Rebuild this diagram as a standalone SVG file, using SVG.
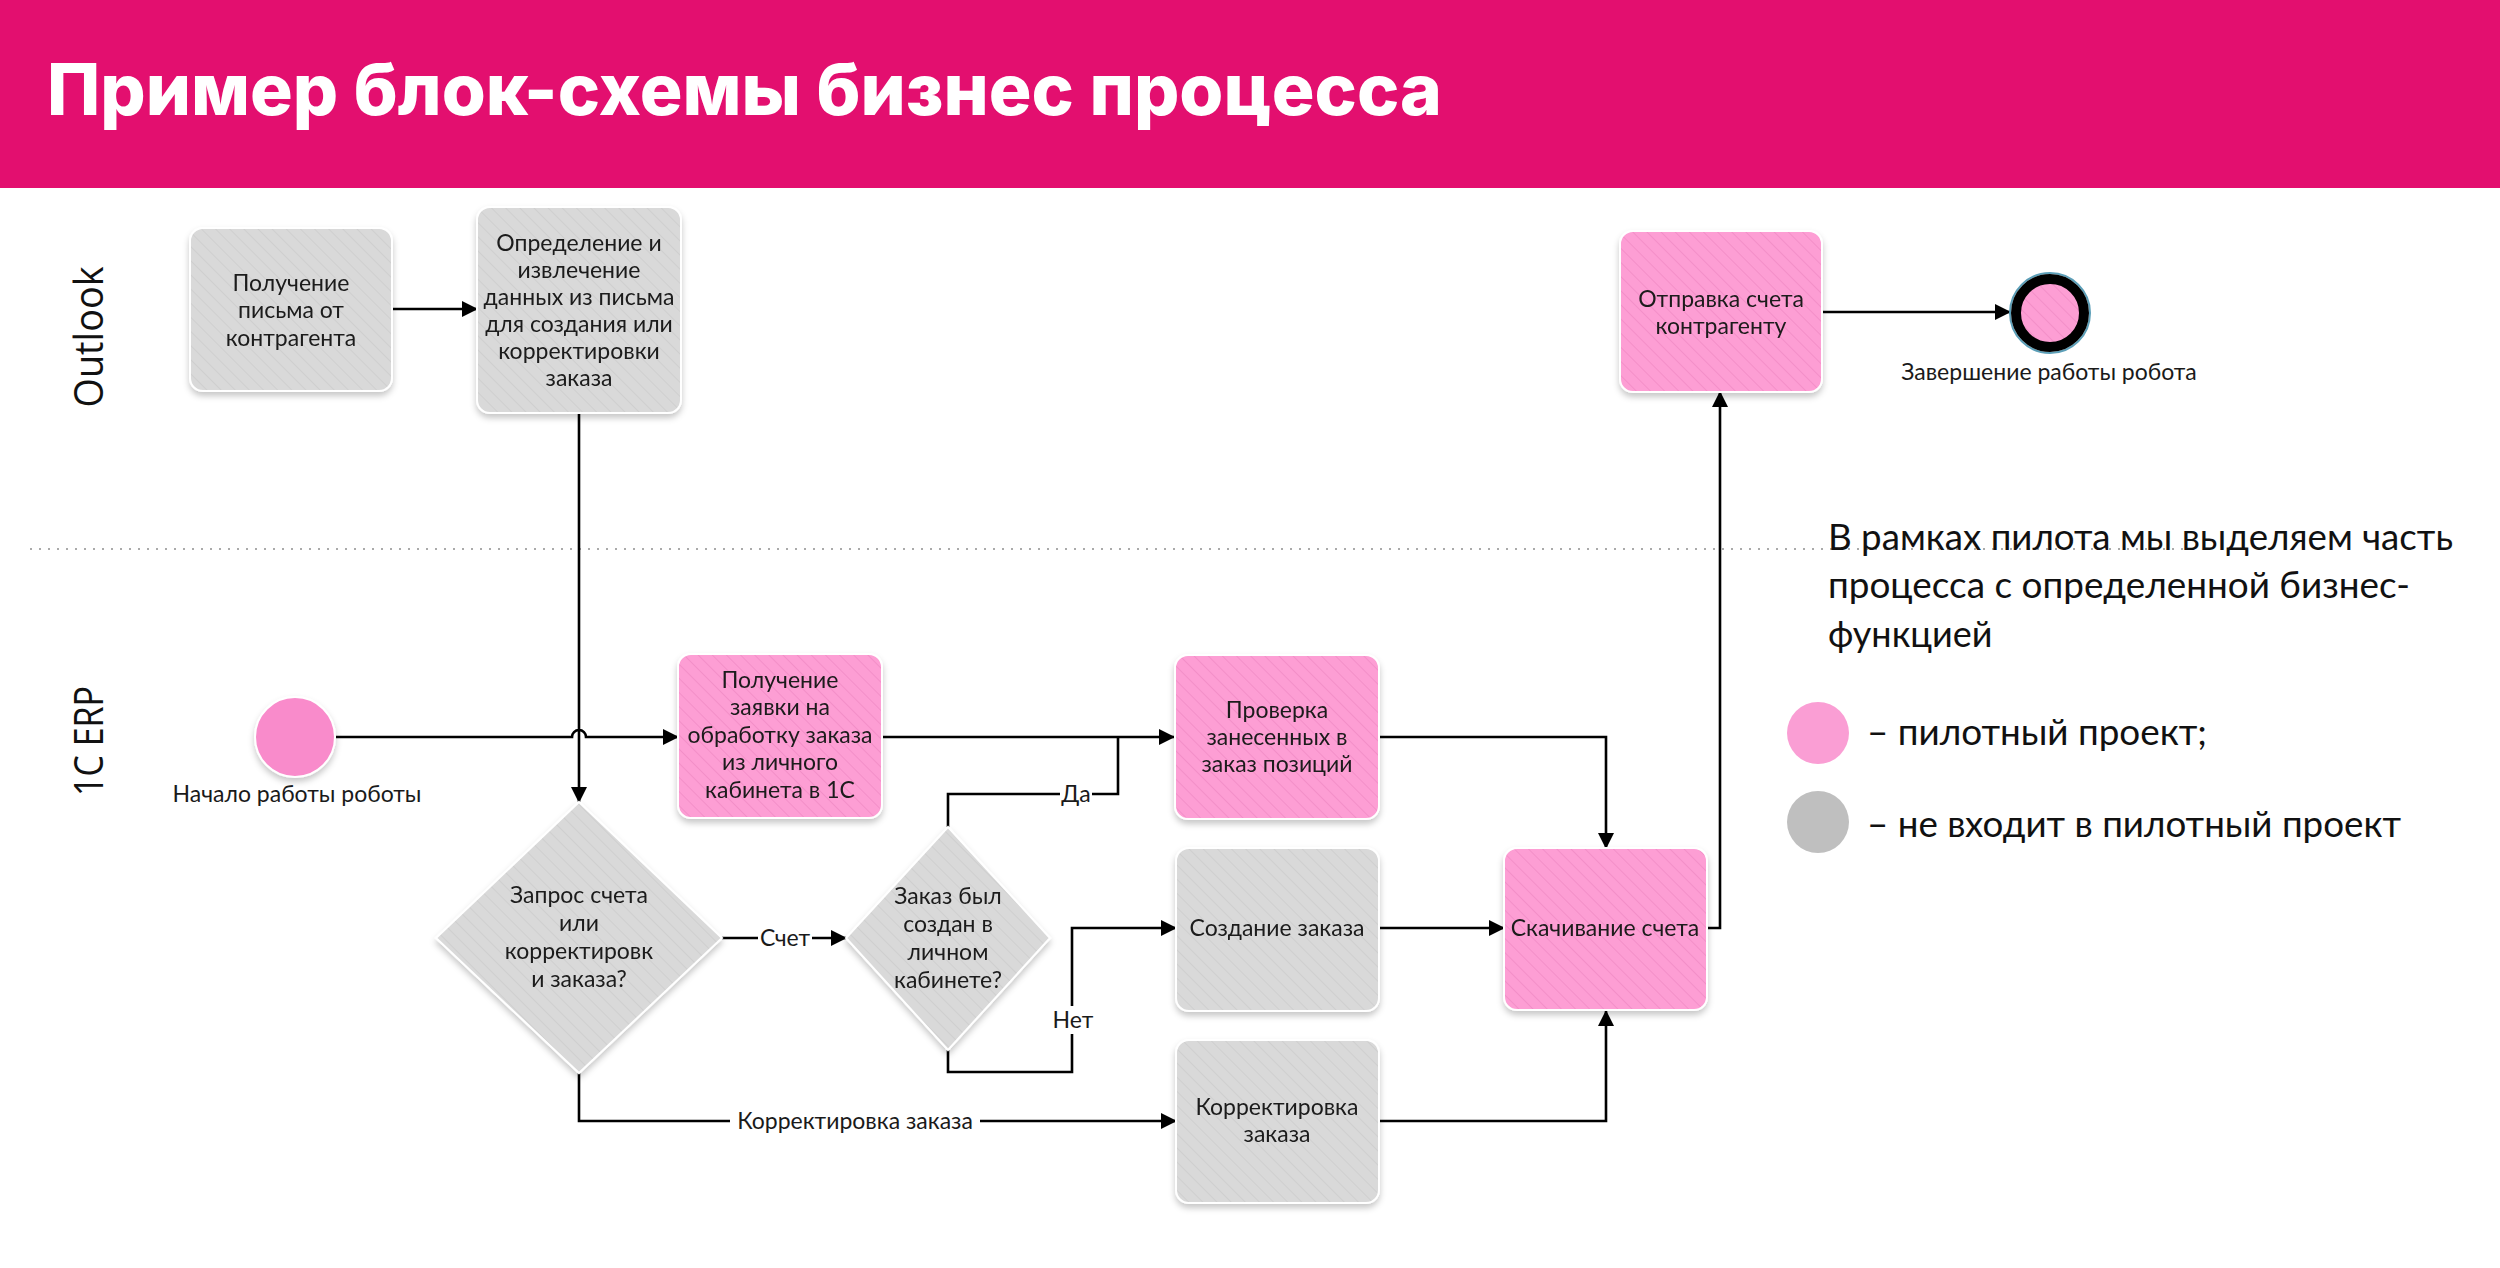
<svg xmlns="http://www.w3.org/2000/svg" width="2500" height="1268" viewBox="0 0 2500 1268">
<style>
  .t{font-family:Lato,"Noto Sans",sans-serif;font-size:23px;fill:#1a1a1a;text-anchor:middle}
  .lane{font-family:"Open Sans","Noto Sans",sans-serif;font-size:40px;fill:#111;text-anchor:middle}
  .leg{font-family:Lato,"Noto Sans",sans-serif;font-size:36px;fill:#111}
  .pink{fill:url(#hp);stroke:#fff;stroke-width:2}
  .gray{fill:url(#hg);stroke:#fff;stroke-width:2}
  .c{fill:none;stroke:#000;stroke-width:2.6}
  .lbl{fill:#fff}
</style>
<defs>
  <pattern id="hp" width="10" height="10" patternUnits="userSpaceOnUse" patternTransform="rotate(-45)">
    <rect width="10" height="10" fill="#FD9ED4"/>
    <line x1="0" y1="0" x2="0" y2="10" stroke="#F38FC8" stroke-width="2"/>
  </pattern>
  <pattern id="hg" width="10" height="10" patternUnits="userSpaceOnUse" patternTransform="rotate(-45)">
    <rect width="10" height="10" fill="#D9D9D9"/>
    <line x1="0" y1="0" x2="0" y2="10" stroke="#CFCFCF" stroke-width="2"/>
  </pattern>
  <filter id="sh" x="-10%" y="-10%" width="120%" height="130%">
    <feDropShadow dx="0" dy="4" stdDeviation="3" flood-color="#000" flood-opacity="0.22"/>
  </filter>
  <marker id="ar" markerUnits="userSpaceOnUse" markerWidth="16" markerHeight="16" refX="15" refY="8" orient="auto">
    <path d="M0,0 L16,8 L0,16 z" fill="#000"/>
  </marker>
</defs>

<rect x="0" y="0" width="2500" height="188" fill="#E30F6F"/>
<text x="47" y="115" font-family="Inter,'Noto Sans',sans-serif" font-weight="800" font-size="71" fill="#fff" textLength="1395" lengthAdjust="spacingAndGlyphs">Пример блок-схемы бизнес процесса</text>

<text class="lane" transform="translate(103,337) rotate(-90)" textLength="141" lengthAdjust="spacingAndGlyphs">Outlook</text>
<text class="lane" transform="translate(103,741) rotate(-90)" textLength="110" lengthAdjust="spacingAndGlyphs">1C ERP</text>
<line x1="30" y1="549" x2="2185" y2="549" stroke="#AAAAAA" stroke-width="2" stroke-dasharray="2,7"/>

<g id="connectors">
  <path class="c" d="M392,309 H477" marker-end="url(#ar)"/>
  <path class="c" d="M579,413 V802" marker-end="url(#ar)"/>
  <path class="c" d="M336,737 H572 A7,7 0 0 1 586,737 H678" marker-end="url(#ar)"/>
  <path class="c" d="M882,737 H1174" marker-end="url(#ar)"/>
  <path class="c" d="M948,827 V794 H1118 V737"/>
  <path class="c" d="M722,938 H846" marker-end="url(#ar)"/>
  <path class="c" d="M948,1050 V1072 H1072 V928 H1176" marker-end="url(#ar)"/>
  <path class="c" d="M1379,928 H1504" marker-end="url(#ar)"/>
  <path class="c" d="M1379,737 H1606 V848" marker-end="url(#ar)"/>
  <path class="c" d="M1379,1121 H1606 V1011" marker-end="url(#ar)"/>
  <path class="c" d="M579,1073 V1121 H1176" marker-end="url(#ar)"/>
  <path class="c" d="M1707,928 H1720 V392" marker-end="url(#ar)"/>
  <path class="c" d="M1822,312 H2010" marker-end="url(#ar)"/>
  <rect class="lbl" x="1060" y="780" width="32" height="28"/>
  <text class="t" x="1076" y="802">Да</text>
  <rect class="lbl" x="758" y="924" width="54" height="28"/>
  <text class="t" x="785" y="946">Счет</text>
  <rect class="lbl" x="1052" y="1006" width="40" height="28"/>
  <text class="t" x="1073" y="1028">Нет</text>
  <rect class="lbl" x="730" y="1107" width="250" height="28"/>
  <text class="t" x="855" y="1129">Корректировка заказа</text>
</g>

<g id="n-receive-mail" filter="url(#sh)">
  <rect class="gray" x="190" y="228" width="202" height="163" rx="13"/>
  <text class="t" x="291" y="291">Получение</text>
  <text class="t" x="291" y="318">письма от</text>
  <text class="t" x="291" y="346">контрагента</text>
</g>
<g id="n-extract" filter="url(#sh)">
  <rect class="gray" x="477" y="207" width="204" height="206" rx="13"/>
  <text class="t" x="579" y="251">Определение и</text>
  <text class="t" x="579" y="278">извлечение</text>
  <text class="t" x="579" y="305">данных из письма</text>
  <text class="t" x="579" y="332">для создания или</text>
  <text class="t" x="579" y="359">корректировки</text>
  <text class="t" x="579" y="386">заказа</text>
</g>
<g id="n-send" filter="url(#sh)">
  <rect class="pink" x="1620" y="231" width="202" height="161" rx="13"/>
  <text class="t" x="1721" y="307">Отправка счета</text>
  <text class="t" x="1721" y="334">контрагенту</text>
</g>
<g id="n-end">
  <circle cx="2050" cy="313" r="40" fill="none" stroke="#5C9FB8" stroke-width="2"/>
  <circle cx="2050" cy="313" r="34" fill="url(#hp)" stroke="#000" stroke-width="10"/>
  <text class="t" x="2049" y="380">Завершение работы робота</text>
</g>
<g id="n-start">
  <circle cx="295" cy="737" r="40" fill="#F98BCB" stroke="#fff" stroke-width="2" filter="url(#sh)"/>
  <text class="t" x="297" y="802">Начало работы роботы</text>
</g>
<g id="n-get-request" filter="url(#sh)">
  <rect class="pink" x="678" y="654" width="204" height="164" rx="13"/>
  <text class="t" x="780" y="688">Получение</text>
  <text class="t" x="780" y="715">заявки на</text>
  <text class="t" x="780" y="743">обработку заказа</text>
  <text class="t" x="780" y="770">из личного</text>
  <text class="t" x="780" y="798">кабинета в 1С</text>
</g>
<g id="n-check" filter="url(#sh)">
  <rect class="pink" x="1175" y="655" width="204" height="164" rx="13"/>
  <text class="t" x="1277" y="718">Проверка</text>
  <text class="t" x="1277" y="745">занесенных в</text>
  <text class="t" x="1277" y="772">заказ позиций</text>
</g>
<g id="n-decision1" filter="url(#sh)">
  <polygon class="gray" points="579,802 722,938 579,1073 436,938"/>
  <text class="t" x="579" y="903">Запрос счета</text>
  <text class="t" x="579" y="931">или</text>
  <text class="t" x="579" y="959">корректировк</text>
  <text class="t" x="579" y="987">и заказа?</text>
</g>
<g id="n-decision2" filter="url(#sh)">
  <polygon class="gray" points="948,827 1050,938 948,1050 846,938"/>
  <text class="t" x="948" y="904">Заказ был</text>
  <text class="t" x="948" y="932">создан в</text>
  <text class="t" x="948" y="960">личном</text>
  <text class="t" x="948" y="988">кабинете?</text>
</g>
<g id="n-create" filter="url(#sh)">
  <rect class="gray" x="1176" y="848" width="203" height="163" rx="13"/>
  <text class="t" x="1277" y="936">Создание заказа</text>
</g>
<g id="n-download" filter="url(#sh)">
  <rect class="pink" x="1504" y="848" width="203" height="162" rx="13"/>
  <text class="t" x="1605" y="936">Скачивание счета</text>
</g>
<g id="n-correct" filter="url(#sh)">
  <rect class="gray" x="1176" y="1040" width="203" height="163" rx="13"/>
  <text class="t" x="1277" y="1115">Корректировка</text>
  <text class="t" x="1277" y="1142">заказа</text>
</g>

<g id="legend">
  <text class="leg" x="1828" y="550" textLength="625" lengthAdjust="spacingAndGlyphs">В рамках пилота мы выделяем часть</text>
  <text class="leg" x="1828" y="598" textLength="582" lengthAdjust="spacingAndGlyphs">процесса с определенной бизнес-</text>
  <text class="leg" x="1828" y="647">функцией</text>
  <circle cx="1818" cy="733" r="31" fill="#FA9ED4"/>
  <text class="leg" x="1867" y="745" textLength="340" lengthAdjust="spacingAndGlyphs">– пилотный проект;</text>
  <circle cx="1818" cy="822" r="31" fill="#BFBFBF"/>
  <text class="leg" x="1867" y="837" textLength="534" lengthAdjust="spacingAndGlyphs">– не входит в пилотный проект</text>
</g>
</svg>
